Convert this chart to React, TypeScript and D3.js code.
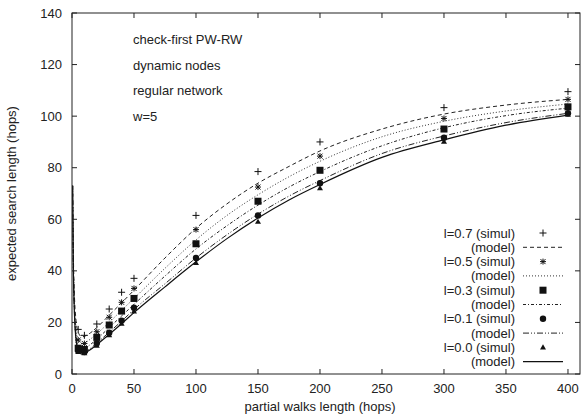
import React from 'react';
import * as d3 from 'd3';

// ---- data ----
const xTicks = [0, 50, 100, 150, 200, 250, 300, 350, 400];
const yTicks = [0, 20, 40, 60, 80, 100, 120, 140];

const simulX = [5, 10, 20, 30, 40, 50, 100, 150, 200, 300, 400];
const simul07 = [17.3, 15, 19.4, 25.2, 31.7, 37.1, 61.5, 78.5, 90, 103.3, 109.5];
const simul05 = [13.2, 11.8, 16.4, 22, 27.8, 33.2, 56, 72.5, 84.5, 99.1, 106.5];
const simul03 = [10, 9.5, 14.2, 19, 24.4, 29.3, 50.5, 67, 79, 95, 103.6];
const simul01 = [9, 8.5, 11.9, 16, 20.7, 25.7, 45, 61.5, 74, 91.6, 101.1];
const simul00 = [8.5, 8, 11, 15, 19.5, 24.2, 43, 59, 72, 90.1, 100.5];

const modelX = [0.5, 1, 2, 3, 4, 5, 6, 8, 10, 15, 20, 30, 40, 50, 75, 100, 125, 150, 175, 200, 250, 300, 350, 400];
const model07 = [73, 50, 30, 22, 18, 16.2, 15.2, 14.4, 14.6, 16, 18, 22.8, 27.6, 32.5, 45, 56.5, 66, 74, 80.5, 86.5, 95, 100.8, 104.3, 106.5];
const model05 = [73, 48, 27, 19, 15, 13.3, 12.4, 11.8, 12, 13.6, 15.6, 20, 24.7, 29.3, 41, 52, 61.5, 69.5, 76.5, 82.5, 92, 98, 102, 104.7];
const model03 = [73, 46, 25, 16.5, 12.8, 11, 10.2, 9.7, 9.9, 11.5, 13.5, 18, 22.5, 27, 38, 48.5, 57.5, 65.5, 72.5, 78.5, 88.5, 95.5, 100.2, 103.1];
const model01 = [73, 45, 23.5, 15, 11.3, 9.5, 8.7, 8.2, 8.4, 10, 12, 16.2, 20.5, 25, 35, 45, 54, 62, 69, 75, 85.5, 92.3, 97.5, 101.1];
const model00 = [73, 44, 23, 14.5, 10.8, 9, 8.2, 7.7, 8, 9.5, 11.4, 15.4, 19.5, 23.8, 33.8, 43.5, 52.5, 60.5, 67.5, 73.5, 84, 90.8, 96.5, 100.4];

const seriesLabels = ['l=0.7', 'l=0.5', 'l=0.3', 'l=0.1', 'l=0.0'];
const annotations = ['check-first PW-RW', 'dynamic nodes', 'regular network', 'w=5'];

// ---- styles ----
const series = [
  { label: seriesLabels[0], simul: simul07, model: model07, marker: 'plus', dash: '4,3', color: '#222', width: 1 },
  { label: seriesLabels[1], simul: simul05, model: model05, marker: 'star', dash: '1,2', color: '#333', width: 1 },
  { label: seriesLabels[2], simul: simul03, model: model03, marker: 'square', dash: '3,2,1,2', color: '#222', width: 1 },
  { label: seriesLabels[3], simul: simul01, model: model01, marker: 'circle', dash: '6,2,1,2,1,2', color: '#222', width: 1 },
  { label: seriesLabels[4], simul: simul00, model: model00, marker: 'triangle', dash: 'none', color: '#111', width: 1.2 },
];

const W = 582, H = 420;
const L = 72, R = 580, T = 13, B = 374;
const FONT = 'Liberation Sans, Arial, Helvetica, sans-serif';
const FS = 13;

function Marker({ type, x, y }: { type: string; x: number; y: number }) {
  const c = '#111';
  switch (type) {
    case 'plus':
      return <path d={`M${x - 3.5},${y}H${x + 3.5}M${x},${y - 3.5}V${y + 3.5}`} stroke={c} strokeWidth={1} fill="none" />;
    case 'star':
      return <path d={`M${x - 3},${y}H${x + 3}M${x},${y - 3}V${y + 3}M${x - 2.5},${y - 2.5}L${x + 2.5},${y + 2.5}M${x - 2.5},${y + 2.5}L${x + 2.5},${y - 2.5}`} stroke={c} strokeWidth={1} fill="none" />;
    case 'square':
      return <rect x={x - 3.5} y={y - 3.5} width={7} height={7} fill={c} />;
    case 'circle':
      return <circle cx={x} cy={y} r={3.2} fill={c} />;
    case 'triangle':
      return <path d={`M${x},${y - 3.2}L${x + 3},${y + 2}L${x - 3},${y + 2}Z`} fill={c} />;
  }
  return null;
}

export default function App() {
  const xs = d3.scaleLinear().domain([0, 409.7]).range([L, R]);
  const ys = d3.scaleLinear().domain([0, 140]).range([B, T]);
  const line = d3.line<[number, number]>()
    .x(d => xs(d[0]))
    .y(d => ys(d[1]))
    .curve(d3.curveMonotoneX);

  const legendTop = 233;
  const legendStep = 14.3;

  return (
    <svg width={W} height={H} style={{ position: 'absolute', left: 0, top: 0, background: '#fff' }}
      fontFamily={FONT} fontSize={FS}>
      <defs>
        <clipPath id="plotclip"><rect x={L} y={T} width={R - L} height={B - T} /></clipPath>
      </defs>
      {/* model lines */}
      <g clipPath="url(#plotclip)">
        {series.map((s, i) => (
          <path key={i} d={line(modelX.map((x, j) => [x, s.model[j]]) as [number, number][]) || ''}
            fill="none" stroke={s.color} strokeWidth={s.width}
            strokeDasharray={s.dash === 'none' ? undefined : s.dash} />
        ))}
        {series.map((s, i) => (
          <g key={i}>
            {simulX.map((x, j) => <Marker key={j} type={s.marker} x={xs(x)} y={ys(s.simul[j])} />)}
          </g>
        ))}
      </g>

      {/* frame */}
      <rect x={L} y={T} width={R - L} height={B - T} fill="none" stroke="#222" strokeWidth={1} />
      {/* x ticks */}
      {xTicks.map(t => (
        <g key={t}>
          <line x1={xs(t)} x2={xs(t)} y1={B} y2={B - 5} stroke="#222" />
          <line x1={xs(t)} x2={xs(t)} y1={T} y2={T + 5} stroke="#222" />
          <text x={xs(t)} y={393} textAnchor="middle" fill="#222">{t}</text>
        </g>
      ))}
      {/* y ticks */}
      {yTicks.map(t => (
        <g key={t}>
          <line x1={L} x2={L + 5} y1={ys(t)} y2={ys(t)} stroke="#222" />
          <line x1={R} x2={R - 5} y1={ys(t)} y2={ys(t)} stroke="#222" />
          <text x={62} y={ys(t) + 4.5} textAnchor="end" fill="#222">{t}</text>
        </g>
      ))}
      {/* axis titles */}
      <text x={(L + R) / 2 - 6} y={411} textAnchor="middle" fill="#222">partial walks length (hops)</text>
      <text transform={`translate(16,${(T + B) / 2}) rotate(-90)`} textAnchor="middle" fill="#222">expected search length (hops)</text>

      {/* annotations */}
      {annotations.map((a, i) => (
        <text key={i} x={133} y={44 + i * 25.5} fill="#222">{a}</text>
      ))}

      {/* legend */}
      {series.map((s, i) => {
        const y1 = legendTop + i * 2 * legendStep;
        const y2 = y1 + legendStep;
        return (
          <g key={i}>
            <text x={515} y={y1 + 4.5} textAnchor="end" fill="#222">{s.label + ' (simul)'}</text>
            <Marker type={s.marker} x={543} y={y1} />
            <text x={515} y={y2 + 4.5} textAnchor="end" fill="#222">(model)</text>
            <line x1={523} x2={563} y1={y2} y2={y2} stroke={s.color} strokeWidth={s.width}
              strokeDasharray={s.dash === 'none' ? undefined : s.dash} />
          </g>
        );
      })}
    </svg>
  );
}
